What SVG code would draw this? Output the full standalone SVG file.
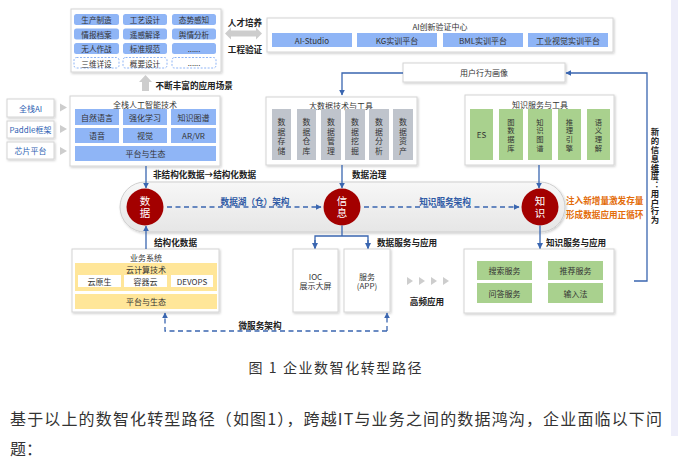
<svg xmlns="http://www.w3.org/2000/svg" width="678" height="475" viewBox="0 0 678 475">
<defs>
<style>
text{font-family:"Noto Sans CJK SC","Noto Sans",sans-serif;}
.box{fill:#fff;stroke:#d4d4d4;stroke-width:1;filter:url(#sh)}
.bc{fill:#8fb5f6}
.gc{fill:#a9d18e}
.yc{fill:#ffe699}
.grc{fill:#bfc4cc}
.dc{fill:#fff;stroke:#8fb5f6;stroke-width:1;stroke-dasharray:2 1.5}
.ct{font-size:7.6px;fill:#333;text-anchor:middle;dominant-baseline:central}
.tt{font-size:8px;fill:#333;text-anchor:middle;dominant-baseline:central}
.vt{font-size:7.9px;fill:#333;text-anchor:middle}
.vk{font-size:7.3px;fill:#333;text-anchor:middle}
.lb{font-size:8.6px;font-weight:bold;fill:#222;dominant-baseline:central}
.dl{font-size:8.6px;font-weight:bold;fill:#2f5aa5;text-anchor:middle;dominant-baseline:central}
.or{font-size:8.6px;font-weight:bold;fill:#e36c09;dominant-baseline:central}
.cn{fill:none;stroke:#3a66b0;stroke-width:1.3}
.ds{stroke-dasharray:5 3.5}
.ci{fill:#a30000}
.cw{font-size:10.5px;fill:#fff;text-anchor:middle;letter-spacing:1.5px;writing-mode:vertical-rl}
.gr{fill:#cdcdcd}
.lt{font-size:8px;fill:#2f5fb3;text-anchor:middle;dominant-baseline:central}
</style>
<filter id="sh" x="-10%" y="-10%" width="125%" height="135%"><feDropShadow dx="1" dy="1.2" stdDeviation="0.9" flood-color="#000" flood-opacity="0.2"/></filter>
<marker id="ar" viewBox="0 0 10 10" refX="9" refY="5" markerWidth="6" markerHeight="6" markerUnits="userSpaceOnUse" orient="auto"><path d="M0,0 L10,5 L0,10z" fill="#3a66b0"/></marker>
<linearGradient id="pill" x1="0" y1="0" x2="0" y2="1"><stop offset="0" stop-color="#f7f7f7"/><stop offset="1" stop-color="#e6e6e6"/></linearGradient>
</defs>
<rect width="678" height="475" fill="#fff"/>
<rect x="671" y="0" width="7" height="436" fill="#eeeefa"/>

<g id="apps">
<rect class="box" x="71" y="9" width="150" height="63"/>
<rect class="bc" x="74" y="14" width="45" height="11" rx="2.5"/><text class="ct" x="96.5" y="19.5">生产制造</text>
<rect class="bc" x="123" y="14" width="44" height="11" rx="2.5"/><text class="ct" x="145" y="19.5">工艺设计</text>
<rect class="bc" x="172" y="14" width="44" height="11" rx="2.5"/><text class="ct" x="194" y="19.5">态势感知</text>
<rect class="bc" x="74" y="28.5" width="45" height="11" rx="2.5"/><text class="ct" x="96.5" y="34">情报档案</text>
<rect class="bc" x="123" y="28.5" width="44" height="11" rx="2.5"/><text class="ct" x="145" y="34">遥感解译</text>
<rect class="bc" x="172" y="28.5" width="44" height="11" rx="2.5"/><text class="ct" x="194" y="34">舆情分析</text>
<rect class="bc" x="74" y="43" width="45" height="11" rx="2.5"/><text class="ct" x="96.5" y="48.5">无人作战</text>
<rect class="bc" x="123" y="43" width="44" height="11" rx="2.5"/><text class="ct" x="145" y="48.5">标准规范</text>
<rect class="bc" x="172" y="43" width="44" height="11" rx="2.5"/><text class="ct" x="194" y="48">......</text>
<rect class="dc" x="74" y="57.5" width="45" height="10.5" rx="2.5"/><text class="ct" x="96.5" y="63">三维详设</text>
<rect class="dc" x="123" y="57.5" width="44" height="10.5" rx="2.5"/><text class="ct" x="145" y="63">概要设计</text>
<rect class="dc" x="172" y="57.5" width="44" height="10.5" rx="2.5"/><text class="ct" x="194" y="62.5">......</text>
</g>

<g id="up-arrow">
<polygon class="gr" points="139,82 145.5,75 152,82 149,82 149,91 142,91 142,82"/>
<text class="lb" x="155.5" y="84.5">不断丰富的应用场景</text>
</g>

<g id="talent">
<text class="lb" x="245" y="22" text-anchor="middle">人才培养</text>
<polygon class="gr" points="225,33.5 231,27.5 231,30.5 256,30.5 256,27.5 262,33.5 256,39.5 256,36.5 231,36.5 231,39.5"/>
<text class="lb" x="245" y="48.5" text-anchor="middle">工程验证</text>
</g>

<g id="ai-center">
<rect class="box" x="267" y="18" width="346" height="34"/>
<text class="tt" x="440" y="26.5">AI创新验证中心</text>
<rect class="bc" x="272" y="33" width="80" height="14"/><text class="tt" x="312" y="40">AI-Studio</text>
<rect class="bc" x="357" y="33" width="80" height="14"/><text class="tt" x="397" y="40">KG实训平台</text>
<rect class="bc" x="443" y="33" width="80" height="14"/><text class="tt" x="483" y="40">BML实训平台</text>
<rect class="bc" x="528" y="33" width="80" height="14"/><text class="tt" x="568" y="40">工业视觉实训平台</text>
</g>

<g id="user-profile">
<rect class="box" x="403" y="63" width="162" height="19"/>
<text class="tt" x="484" y="72.5">用户行为画像</text>
</g>

<g id="left-tech">
<rect class="box" x="7" y="99" width="47" height="18"/><text class="lt" x="30.5" y="108">全栈AI</text>
<rect class="box" x="7" y="121" width="47" height="17"/><text class="lt" x="30.5" y="129.5">Paddle框架</text>
<rect class="box" x="7" y="142" width="47" height="17"/><text class="lt" x="30.5" y="150.5">芯片平台</text>
<polygon class="gr" points="60,103.5 67,107.5 60,111.5"/>
<polygon class="gr" points="60,125 67,129 60,133"/>
<polygon class="gr" points="60,147 67,151 60,155"/>
</g>

<g id="ai-tech">
<rect class="box" x="70" y="96" width="150" height="70"/>
<text class="tt" x="145" y="104.5">全栈人工智能技术</text>
<rect class="bc" x="75" y="109" width="44" height="16"/><text class="tt" x="97" y="117">自然语言</text>
<rect class="bc" x="123" y="109" width="44" height="16"/><text class="tt" x="145" y="117">强化学习</text>
<rect class="bc" x="171" y="109" width="45" height="16"/><text class="tt" x="193.5" y="117">知识图谱</text>
<rect class="bc" x="75" y="128" width="44" height="15"/><text class="tt" x="97" y="135.5">语音</text>
<rect class="bc" x="123" y="128" width="44" height="15"/><text class="tt" x="145" y="135.5">视觉</text>
<rect class="bc" x="171" y="128" width="45" height="15"/><text class="tt" x="193.5" y="135.5">AR/VR</text>
<rect class="bc" x="75" y="146" width="141" height="15"/><text class="tt" x="145.5" y="153.5">平台与生态</text>
</g>

<g id="bigdata">
<rect class="box" x="266" y="97" width="151" height="68"/>
<text class="tt" x="341" y="105">大数据技术与工具</text>
<rect class="grc" x="272" y="109" width="19" height="51"/>
<rect class="grc" x="297" y="109" width="19" height="51"/>
<rect class="grc" x="321" y="109" width="20" height="51"/>
<rect class="grc" x="345" y="109" width="20" height="51"/>
<rect class="grc" x="369" y="109" width="20" height="51"/>
<rect class="grc" x="393" y="109" width="20" height="51"/>
<text class="vt"><tspan x="281.5" y="125">数</tspan><tspan x="281.5" y="134.5">据</tspan><tspan x="281.5" y="144">存</tspan><tspan x="281.5" y="153.5">储</tspan></text>
<text class="vt"><tspan x="306.5" y="125">数</tspan><tspan x="306.5" y="134.5">据</tspan><tspan x="306.5" y="144">仓</tspan><tspan x="306.5" y="153.5">库</tspan></text>
<text class="vt"><tspan x="331" y="125">数</tspan><tspan x="331" y="134.5">据</tspan><tspan x="331" y="144">管</tspan><tspan x="331" y="153.5">理</tspan></text>
<text class="vt"><tspan x="355" y="125">数</tspan><tspan x="355" y="134.5">据</tspan><tspan x="355" y="144">挖</tspan><tspan x="355" y="153.5">掘</tspan></text>
<text class="vt"><tspan x="379" y="125">数</tspan><tspan x="379" y="134.5">据</tspan><tspan x="379" y="144">分</tspan><tspan x="379" y="153.5">析</tspan></text>
<text class="vt"><tspan x="403" y="125">数</tspan><tspan x="403" y="134.5">据</tspan><tspan x="403" y="144">资</tspan><tspan x="403" y="153.5">产</tspan></text>
</g>

<g id="knowledge-tools">
<rect class="box" x="465" y="95" width="149" height="70"/>
<text class="tt" x="540" y="104">知识服务与工具</text>
<rect class="gc" x="470" y="109" width="23" height="51"/>
<rect class="gc" x="499" y="109" width="24" height="51"/>
<rect class="gc" x="528" y="109" width="24" height="51"/>
<rect class="gc" x="558" y="109" width="23" height="51"/>
<rect class="gc" x="587" y="109" width="23" height="51"/>
<text class="tt" x="481.5" y="134.5">ES</text>
<text class="vk"><tspan x="511" y="124.5">图</tspan><tspan x="511" y="133.3">数</tspan><tspan x="511" y="142.1">据</tspan><tspan x="511" y="150.9">库</tspan></text>
<text class="vk"><tspan x="540" y="124.5">知</tspan><tspan x="540" y="133.3">识</tspan><tspan x="540" y="142.1">图</tspan><tspan x="540" y="150.9">谱</tspan></text>
<text class="vk"><tspan x="569.5" y="124.5">推</tspan><tspan x="569.5" y="133.3">理</tspan><tspan x="569.5" y="142.1">引</tspan><tspan x="569.5" y="150.9">擎</tspan></text>
<text class="vk"><tspan x="598.5" y="124.5">语</tspan><tspan x="598.5" y="133.3">义</tspan><tspan x="598.5" y="142.1">理</tspan><tspan x="598.5" y="150.9">解</tspan></text>
</g>

<g id="pipeline">
<rect x="120" y="182" width="445" height="50" rx="25" fill="url(#pill)" stroke="#cfcfcf" stroke-width="1" filter="url(#sh)"/>
</g>

<g id="node-data">
<circle class="ci" cx="145" cy="207" r="18.5"/>
<text class="cw" x="145" y="207.5">数据</text>
</g>
<g id="node-info">
<circle class="ci" cx="342" cy="207" r="18.5"/>
<text class="cw" x="342" y="207.5">信息</text>
</g>
<g id="node-knowledge">
<circle class="ci" cx="540" cy="207" r="18.5"/>
<text class="cw" x="540" y="207.5">知识</text>
</g>

<g id="business">
<rect class="box" x="72" y="249" width="147" height="63"/>
<text class="tt" x="146" y="257">业务系统</text>
<rect class="yc" x="75" y="263" width="142" height="28"/>
<text class="tt" x="146" y="269">云计算技术</text>
<rect x="78" y="275" width="43" height="12" fill="#fff"/><text class="tt" x="99.5" y="281">云原生</text>
<rect x="124" y="275" width="43" height="12" fill="#fff"/><text class="tt" x="145.5" y="281">容器云</text>
<rect x="171" y="275" width="42" height="12" fill="#fff"/><text class="tt" x="192" y="281">DEVOPS</text>
<rect class="yc" x="75" y="294" width="142" height="15"/>
<text class="tt" x="146" y="301.5">平台与生态</text>
</g>

<g id="ioc">
<rect class="box" x="293" y="249" width="45" height="63"/>
<text class="tt" x="315.5" y="276">IOC</text>
<text class="tt" x="315.5" y="285.5">展示大屏</text>
</g>
<g id="app">
<rect class="box" x="344" y="249" width="46" height="63"/>
<text class="tt" x="367" y="276">服务</text>
<text class="tt" x="367" y="285.5">(APP)</text>
</g>

<g id="high-freq">
<polygon class="gr" points="407,277 413,281 407,285"/>
<polygon class="gr" points="419,277 425,281 419,285"/>
<polygon class="gr" points="431,277 437,281 431,285"/>
<polygon class="gr" points="443,277 449,281 443,285"/>
<text class="lb" x="427" y="301" text-anchor="middle">高频应用</text>
</g>

<g id="knowledge-apps">
<rect class="box" x="464" y="249" width="150" height="64"/>
<rect class="gc" x="477" y="261" width="55" height="19"/><text class="tt" x="504.5" y="270.5">搜索服务</text>
<rect class="gc" x="548" y="261" width="55" height="19"/><text class="tt" x="575.5" y="270.5">推荐服务</text>
<rect class="gc" x="477" y="283" width="55" height="20"/><text class="tt" x="504.5" y="293">问答服务</text>
<rect class="gc" x="548" y="283" width="55" height="20"/><text class="tt" x="575.5" y="293">输入法</text>
</g>

<g id="connectors">
<path class="cn" d="M403,73 H342 V95" marker-end="url(#ar)"/>
<path class="cn" d="M634,281 H647 V73 H566" marker-end="url(#ar)"/>
<path class="cn" d="M146,166 V188" marker-end="url(#ar)"/>
<path class="cn" d="M342,165 V188" marker-end="url(#ar)"/>
<path class="cn" d="M539,165 V188" marker-end="url(#ar)"/>
<path class="cn" d="M146,249 V226" marker-end="url(#ar)"/>
<path class="cn" d="M342,225.5 V236"/>
<path class="cn" d="M315,248 V236 H368 V248"/>
<path class="cn" d="M315,240 V248.5" marker-end="url(#ar)"/>
<path class="cn" d="M368,240 V248.5" marker-end="url(#ar)"/>
<path class="cn" d="M540,225.5 V248.5" marker-end="url(#ar)"/>
<path class="cn ds" d="M167,207 H321" marker-end="url(#ar)"/>
<path class="cn ds" d="M364,207 H519" marker-end="url(#ar)"/>
<path class="cn ds" d="M387,331 H165 V313" marker-end="url(#ar)"/>
<path class="cn ds" d="M387,331 V313" marker-end="url(#ar)"/>
</g>

<g id="labels">
<text class="lb" x="153" y="173.5">非结构化数据→结构化数据</text>
<text class="lb" x="352" y="173.5">数据治理</text>
<text class="dl" x="255" y="201">数据湖（仓）架构</text>
<text class="dl" x="445" y="201">知识服务架构</text>
<text class="or" x="566" y="200">注入新增量激发存量</text>
<text class="or" x="566" y="214">形成数据应用正循环</text>
<text class="lb" x="154" y="241.5">结构化数据</text>
<text class="lb" x="377" y="242">数据服务与应用</text>
<text class="lb" x="546" y="242">知识服务与应用</text>
<text class="lb" x="260" y="325" text-anchor="middle">微服务架构</text>
<text x="655" y="128" font-size="8.4" font-weight="bold" fill="#222" letter-spacing="0.4" style="writing-mode:vertical-rl">新的信息维度：用户行为</text>
</g>

<text x="335" y="373" text-anchor="middle" font-size="14" fill="#333" textLength="173" lengthAdjust="spacing">图 1 企业数智化转型路径</text>
<text x="10" y="425" font-size="16" fill="#333" textLength="652" lengthAdjust="spacing">基于以上的数智化转型路径（如图1），跨越IT与业务之间的数据鸿沟，企业面临以下问</text>
<text x="10" y="455" font-size="16" fill="#333">题：</text>
</svg>
